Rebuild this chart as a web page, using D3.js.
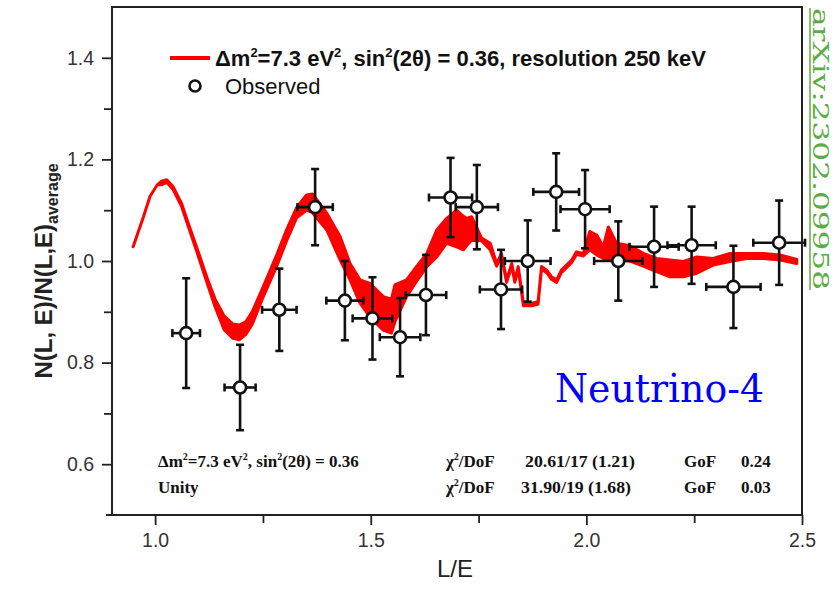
<!DOCTYPE html>
<html><head><meta charset="utf-8">
<script src="https://cdn.jsdelivr.net/npm/d3@7"></script>
<style>body{margin:0;background:#fff}svg{display:block}</style>
</head><body>
<svg id="c" width="840" height="593"></svg>
<script>
// ---- data ----
const obsLE   = [1.072,1.197,1.288,1.371,1.440,1.504,1.568,1.628,1.685,1.746,1.802,1.864,1.930,1.997,2.074,2.157,2.244,2.341,2.447];
const obsVal  = [0.858,0.751,0.904,1.106,0.922,0.887,0.850,0.933,1.125,1.106,0.944,1.000,1.136,1.102,1.000,1.028,1.031,0.949,1.036];
const obsYErr = [0.108,0.084,0.081,0.075,0.078,0.081,0.077,0.079,0.078,0.083,0.078,0.080,0.076,0.077,0.078,0.079,0.076,0.081,0.083];
const obsXErr = [0.032,0.036,0.040,0.041,0.043,0.046,0.047,0.047,0.050,0.049,0.049,0.053,0.053,0.057,0.056,0.057,0.056,0.063,0.060];

const fitLE    = [0.949,0.973,0.988,1.005,1.015,1.027,1.042,1.061,1.077,1.100,1.120,1.139,1.160,1.180,1.195,1.210,1.225,1.251,1.282,1.305,1.328,1.351,1.365,1.398,1.429,1.452,1.475,1.498,1.529,1.548,1.556,1.583,1.606,1.630,1.653,1.676,1.699,1.715,1.722,1.734,1.757,1.777,1.792,1.803,1.815,1.827,1.834,1.842,1.854,1.873,1.888,1.896,1.908,1.919,1.931,1.942,1.954,1.966,1.977,1.993,2.008,2.024,2.039,2.051,2.070,2.101,2.132,2.163,2.194,2.225,2.256,2.294,2.333,2.372,2.410,2.449,2.488];
const fitUpper = [1.028,1.087,1.127,1.150,1.157,1.160,1.146,1.114,1.074,1.018,0.968,0.925,0.892,0.876,0.874,0.880,0.900,0.950,1.012,1.062,1.105,1.130,1.132,1.094,1.048,0.995,0.963,0.956,0.930,0.925,0.953,0.963,0.989,1.015,1.061,1.084,1.100,1.088,1.084,1.087,1.045,1.035,0.995,1.015,0.963,0.995,0.963,0.989,0.917,0.917,0.920,0.989,0.982,0.969,0.963,0.982,0.992,1.002,1.018,1.015,1.058,1.051,1.028,1.067,1.035,1.030,1.015,1.005,1.002,0.999,1.008,1.005,1.015,1.015,1.015,1.012,1.003];
const fitLower = [1.028,1.087,1.127,1.150,1.150,1.155,1.140,1.108,1.068,1.010,0.958,0.910,0.865,0.848,0.845,0.855,0.875,0.930,0.990,1.040,1.085,1.100,1.095,1.061,1.002,0.963,0.917,0.890,0.864,0.858,0.880,0.930,0.960,0.989,1.008,1.035,1.028,1.022,1.030,1.041,1.040,1.022,0.990,1.010,0.958,0.990,0.958,0.984,0.912,0.912,0.915,0.984,0.977,0.964,0.958,0.977,0.987,0.997,1.013,1.010,1.022,1.012,1.005,1.005,1.002,1.000,0.990,0.979,0.969,0.969,0.976,0.992,0.999,1.005,1.005,1.002,0.995];

const xMajor = [1.0,1.5,2.0,2.5];
const xMinor = [1.25,1.75,2.25];
const yMajor = [0.6,0.8,1.0,1.2,1.4];
const yMinor = [0.7,0.9,1.1,1.3];

// ---- chart ----
const svg = d3.select("#c");
const L=112,R=802,T=7,B=515;
const x = d3.scaleLinear([0.9,2.5],[L,R]);
const y = d3.scaleLinear([0.5,1.5],[B,T]);
const sans = "Liberation Sans, Arial, sans-serif";
const serif = "Liberation Serif, Times New Roman, serif";

// fit band
const fit = fitLE.map((d,i)=>({x:d,u:fitUpper[i],l:fitLower[i]}));
svg.append("path").datum(fit)
  .attr("d", d3.area().x(d=>x(d.x)).y0(d=>y(d.l)).y1(d=>y(d.u)))
  .attr("fill","#ff0000").attr("stroke","#ff0000").attr("stroke-width",3).attr("stroke-linejoin","round");

// observed points
const obs = obsLE.map((d,i)=>({x:d,v:obsVal[i],ey:obsYErr[i],ex:obsXErr[i]}));
const g = svg.append("g").attr("stroke","#111").attr("stroke-width",2.6).attr("fill","none");
const cap=4;
obs.forEach(d=>{
  const cx=x(d.x), cy=y(d.v);
  const y1=y(d.v+d.ey), y2=y(d.v-d.ey), x1=x(d.x-d.ex), x2=x(d.x+d.ex);
  g.append("line").attr("x1",cx).attr("x2",cx).attr("y1",y1).attr("y2",y2);
  g.append("line").attr("x1",cx-cap).attr("x2",cx+cap).attr("y1",y1).attr("y2",y1);
  g.append("line").attr("x1",cx-cap).attr("x2",cx+cap).attr("y1",y2).attr("y2",y2);
  g.append("line").attr("x1",x1).attr("x2",x2).attr("y1",cy).attr("y2",cy);
  g.append("line").attr("x1",x1).attr("x2",x1).attr("y1",cy-cap).attr("y2",cy+cap);
  g.append("line").attr("x1",x2).attr("x2",x2).attr("y1",cy-cap).attr("y2",cy+cap);
});
g.selectAll("circle").data(obs).join("circle")
  .attr("cx",d=>x(d.x)).attr("cy",d=>y(d.v)).attr("r",6).attr("fill","#fff");

// frame
svg.append("rect").attr("x",L).attr("y",T).attr("width",R-L).attr("height",B-T)
  .attr("fill","none").attr("stroke","#222").attr("stroke-width",2);
svg.append("line").attr("x1",106).attr("x2",L).attr("y1",B).attr("y2",B).attr("stroke","#222").attr("stroke-width",2);

// axes
function styleAxis(sel){
  sel.select(".domain").remove();
  sel.selectAll("line").attr("stroke","#222").attr("stroke-width",1.8);
  sel.selectAll("text").attr("font-family",sans).attr("font-size",19.5).attr("fill","#333");
}
svg.append("g").attr("transform",`translate(0,${B})`)
  .call(d3.axisBottom(x).tickValues(xMajor).tickFormat(d3.format(".1f")).tickSize(10).tickPadding(8)).call(styleAxis);
svg.append("g").attr("transform",`translate(0,${B})`)
  .call(d3.axisBottom(x).tickValues(xMinor).tickFormat("").tickSize(8)).call(styleAxis);
svg.append("g").attr("transform",`translate(${L},0)`)
  .call(d3.axisLeft(y).tickValues(yMajor).tickFormat(d3.format(".1f")).tickSize(10).tickPadding(8)).call(styleAxis);
svg.append("g").attr("transform",`translate(${L},0)`)
  .call(d3.axisLeft(y).tickValues(yMinor).tickFormat("").tickSize(8)).call(styleAxis);

// axis titles
svg.append("text").attr("x",455).attr("y",577).attr("text-anchor","middle")
  .attr("font-family",sans).attr("font-size",24).attr("fill","#222").text("L/E");
const yt = svg.append("text").attr("transform","translate(52,271) rotate(-90)").attr("text-anchor","middle")
  .attr("font-family",sans).attr("font-size",24).attr("font-weight","bold").attr("fill","#222");
yt.append("tspan").text("N(L, E)/N(L,E)");
yt.append("tspan").attr("font-size",16).attr("dy",6).text("average");

// legend
svg.append("line").attr("x1",170).attr("x2",210).attr("y1",58).attr("y2",58)
  .attr("stroke","#ff0000").attr("stroke-width",4);
const lt = svg.append("text").attr("x",215).attr("y",66).attr("font-family",sans).attr("font-size",22)
  .attr("font-weight","bold").attr("fill","#111");
lt.append("tspan").text("\u0394m");
lt.append("tspan").attr("font-size",13).attr("dy",-9).text("2");
lt.append("tspan").attr("dy",9).text("=7.3 eV");
lt.append("tspan").attr("font-size",13).attr("dy",-9).text("2");
lt.append("tspan").attr("dy",9).text(", sin");
lt.append("tspan").attr("font-size",13).attr("dy",-9).text("2");
lt.append("tspan").attr("dy",9).text("(2\u03b8) = 0.36, resolution 250 keV");
svg.append("circle").attr("cx",195).attr("cy",86).attr("r",5.5).attr("fill","#fff").attr("stroke","#111").attr("stroke-width",2.6);
svg.append("text").attr("x",225).attr("y",94).attr("font-family",sans).attr("font-size",22).attr("fill","#111").text("Observed");

// statistics text
function stat(xp,yp,parts,len){
  const t=svg.append("text").attr("x",xp).attr("y",yp).attr("font-family",serif).attr("font-size",17)
    .attr("font-weight","bold").attr("fill","#111");
  let pend=0;
  parts.forEach(p=>{
    if(typeof p === "object"){ t.append("tspan").attr("font-size",10).attr("dy",-7).text(p.s); pend=7; }
    else { const s=t.append("tspan").text(p); if(pend){s.attr("dy",pend); pend=0;} }
  });
  if(len) t.attr("textLength",len).attr("lengthAdjust","spacingAndGlyphs");
}
stat(158,467,["\u0394m",{s:"2"},"=7.3 eV",{s:"2"},", sin",{s:"2"},"(2\u03b8) = 0.36"]);
stat(158,493,["Unity"]);
stat(446,467,["\u03c7",{s:"2"},"/DoF"]);
stat(446,493,["\u03c7",{s:"2"},"/DoF"]);
stat(525,467,["20.61/17 (1.21)"],110);
stat(521,493,["31.90/19 (1.68)"],110);
stat(684,467,["GoF"]);
stat(684,493,["GoF"]);
stat(741,467,["0.24"]);
stat(741,493,["0.03"]);

// annotations
svg.append("text").attr("x",555).attr("y",402).attr("font-family","DejaVu Serif, serif").attr("font-size",39)
  .attr("fill","#0000ff").attr("textLength",209).attr("lengthAdjust","spacingAndGlyphs").text("Neutrino-4");
svg.append("text").attr("transform","translate(813,8) rotate(90)").attr("font-family","DejaVu Serif, serif")
  .attr("font-size",23).attr("fill","#5aac44").attr("textLength",282).attr("lengthAdjust","spacingAndGlyphs")
  .text("arXiv:2302.09958");
svg.append("line").attr("x1",810).attr("x2",810).attr("y1",8).attr("y2",290).attr("stroke","#5aac44").attr("stroke-width",1.5);
</script>
</body></html>
